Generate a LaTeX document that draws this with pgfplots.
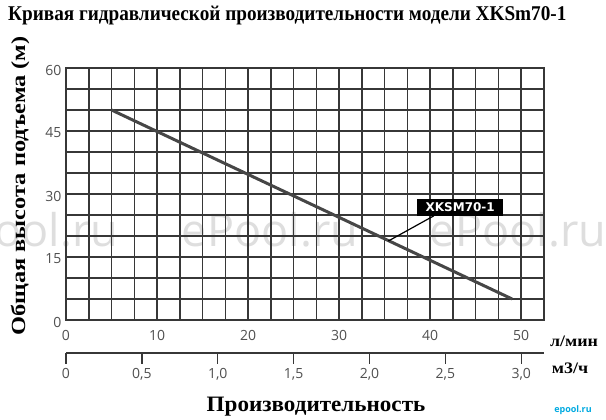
\documentclass[border=0pt]{standalone}
\usepackage{fontspec}
\setmainfont{Liberation Serif}
\setsansfont{Open Sans}
\newfontfamily\dejavu{DejaVu Sans}
\usepackage{graphicx}
\usepackage{pgfplots}
\pgfplotsset{compat=1.18}
\definecolor{gridc}{RGB}{55,55,55}
\definecolor{curvec}{RGB}{70,70,70}
\definecolor{tickc}{RGB}{80,80,80}
\definecolor{wmark}{RGB}{222,222,222}
\definecolor{logoc}{RGB}{0,170,225}

\begin{document}
\begin{tikzpicture}
\path[use as bounding box] (0pt,0pt) rectangle (606pt,420pt);
\fill[white] (0pt,0pt) rectangle (606pt,420pt);

% title
\node[anchor=base west, inner sep=0pt, font=\fontsize{21}{24}\selectfont\bfseries] at (8pt,399pt)
  {\scalebox{0.915}[1]{Кривая гидравлической производительности модели XKSm70-1}};

% watermarks
\node[font=\sffamily\fontsize{45}{45}\selectfont, text=wmark] at (30pt,190pt) {ePool.ru};
\node[font=\sffamily\fontsize{45}{45}\selectfont, text=wmark] at (270pt,190pt) {ePool.ru};
\node[font=\sffamily\fontsize{45}{45}\selectfont, text=wmark] at (518pt,190pt) {ePool.ru};

% main chart (l/min)
\begin{axis}[
  at={(66pt,100pt)}, anchor=south west,
  scale only axis, width=478pt, height=252pt,
  xmin=0, xmax=52.5, ymin=0, ymax=60,
  xtick={0,10,...,50},
  minor xtick={0,2.5,5,7.5,10,12.5,15,17.5,20,22.5,25,27.5,30,32.5,35,37.5,40,42.5,45,47.5,50,52.5},
  ytick={0,15,...,60},
  minor ytick={0,5,...,60},
  grid=both,
  major grid style={gridc, line width=1.5pt},
  minor grid style={gridc, line width=1.5pt},
  major tick length=0pt, minor tick length=0pt,
  axis line style={gridc, line width=1.5pt},
  tick label style={font=\sffamily\fontsize{14}{14}\selectfont, text=tickc},
  /pgf/number format/assume math mode=true,
  xticklabel style={yshift=-7pt},
  yticklabel style={xshift=-1pt, yshift=-2pt},
  clip=false,
]
\addplot[curvec, line width=3pt] coordinates {(5,50) (49,5)};
\draw[black, line width=1.2pt] (axis cs:40.4,24.8) -- (axis cs:35.4,18.8);
\node[fill=black, text=white, inner sep=0pt, minimum width=86pt, minimum height=17pt,
      font=\dejavu\bfseries\fontsize{12}{12}\selectfont] at (axis cs:43.3,26.8) {XKSM70-1};
\end{axis}

% second scale (m3/h)
\begin{axis}[
  at={(66pt,67pt)}, anchor=south west,
  scale only axis, width=478pt, height=10pt,
  xmin=0, xmax=3.15, ymin=0, ymax=1,
  axis x line*=bottom, hide y axis,
  axis line style={-, gridc, line width=1.3pt},
  xtick={0,0.5,1,1.5,2,2.5,3},
  xticklabels={0,{0,5},{1,0},{1,5},{2,0},{2,5},{3,0}},
  tick align=outside, major tick length=11pt,
  tick style={gridc, line width=1.3pt},
  tick label style={font=\sffamily\fontsize{14}{14}\selectfont, text=tickc},
  xticklabel style={yshift=-1pt},
]
\addplot[draw=none] coordinates {(0,0)};
\end{axis}

% units and axis titles
\node[font=\fontsize{16}{16}\selectfont\bfseries] at (574pt,79pt) {\scalebox{1.12}[1]{л/мин}};
\node[font=\fontsize{16}{16}\selectfont\bfseries] at (570pt,52pt) {\scalebox{1.12}[1]{м3/ч}};
\node[anchor=base, inner sep=0pt, font=\fontsize{22}{22}\selectfont\bfseries] at (316pt,8pt)
  {\scalebox{1.05}[1]{Производительность}};
\node[rotate=90, font=\fontsize{20}{20}\selectfont\bfseries] at (20pt,234pt)
  {\scalebox{1.22}[1]{Общая высота подъема (м)}};

% logo
\node[font=\sffamily\bfseries\fontsize{9}{9}\selectfont, text=logoc] at (573pt,10pt) {epool.ru};
\end{tikzpicture}
\end{document}
